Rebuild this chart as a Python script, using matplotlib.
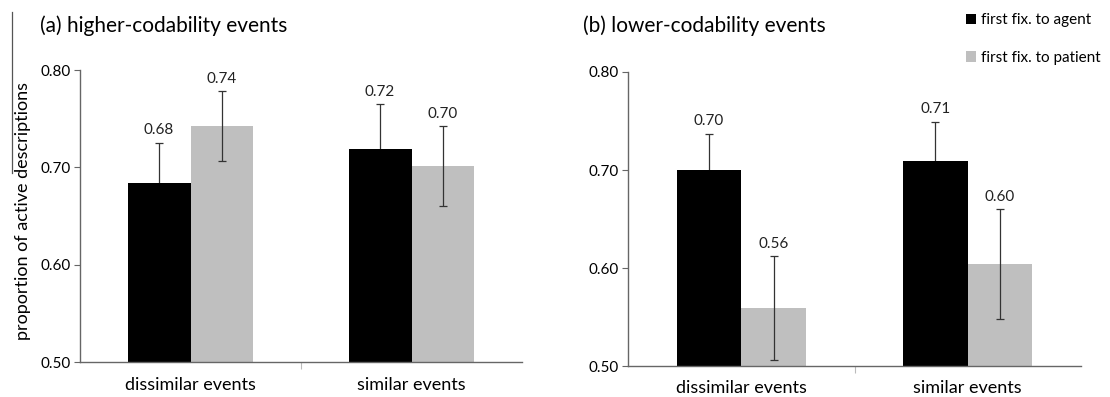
import matplotlib
matplotlib.use("Agg")
import matplotlib.pyplot as plt
from matplotlib.lines import Line2D
from matplotlib.patches import Patch

plt.rcParams['font.family'] = ['Lato', 'DejaVu Sans']

# proportions of active descriptions by first fixation
categories = ["dissimilar events", "similar events"]
series = ["first fix. to agent", "first fix. to patient"]
colors = ["#000000", "#bfbfbf"]

high_agent = [0.684, 0.719]
high_agent_err = [0.041, 0.046]
high_patient = [0.742, 0.701]
high_patient_err = [0.036, 0.041]

low_agent = [0.700, 0.709]
low_agent_err = [0.037, 0.040]
low_patient = [0.559, 0.604]
low_patient_err = [0.053, 0.056]

yticks = [0.50, 0.60, 0.70, 0.80]

W, H = 1110, 397
fig = plt.figure(figsize=(W / 100, H / 100), dpi=100)

ax_a = fig.add_axes([80 / W, 1 - 362 / H, 442 / W, 292 / H])
ax_b = fig.add_axes([628 / W, 1 - 366 / H, 453 / W, 294 / H])

bw = 0.285


def draw_panel(ax, agent, agent_err, patient, patient_err, title, title_x, xpad):
    centers = [0.5, 1.5]
    for k, (vals, errs) in enumerate([(agent, agent_err), (patient, patient_err)]):
        xs = [c - bw + k * bw for c in centers]
        ax.bar(xs, vals, width=bw, align="edge", color=colors[k], zorder=2)
        xm = [x + bw / 2 for x in xs]
        # agent bars hide the lower half of their error bars
        ax.errorbar(xm, vals, yerr=errs, fmt="none", ecolor="#333333",
                    elinewidth=0.9, capsize=3.2, capthick=0.9,
                    zorder=1 if k == 0 else 3)
        for x, v, e in zip(xm, vals, errs):
            ax.annotate(f"{v:.2f}", (x, v + e), xytext=(0, 4),
                        textcoords="offset points", ha="center", va="bottom",
                        fontsize=11, color="#222222")
    ax.set_xlim(0, 2)
    ax.set_ylim(0.5, 0.8)
    ax.set_yticks(yticks)
    ax.set_yticklabels([f"{t:.2f}" for t in yticks], fontsize=11)
    ax.set_xticks([0.5, 1.5])
    ax.set_xticklabels(categories, fontsize=13)
    ax.tick_params(axis="x", length=0, pad=xpad)
    ax.tick_params(axis="y", length=4, width=0.8, color="#666666", pad=3)
    ax.set_xticks([1.0], minor=True)
    ax.tick_params(axis="x", which="minor", length=5, width=0.8, color="#bbbbbb")
    for s in ["top", "right"]:
        ax.spines[s].set_visible(False)
    for s in ["left", "bottom"]:
        ax.spines[s].set_color("#666666")
        ax.spines[s].set_linewidth(1.0)
    fig.text(title_x / W, 1 - 26 / H, title, fontsize=15, va="center", ha="left")


draw_panel(ax_a, high_agent, high_agent_err, high_patient, high_patient_err,
           "(a) higher-codability events", 40, 11)
draw_panel(ax_b, low_agent, low_agent_err, low_patient, low_patient_err,
           "(b) lower-codability events", 583, 10)

fig.text(23 / W, 1 - 211 / H, "proportion of active descriptions", fontsize=13,
         rotation=90, ha="center", va="center")

fig.add_artist(Line2D([12 / W, 12 / W], [1 - 12 / H, 1 - 173 / H],
                      transform=fig.transFigure, color="#555555", lw=0.9))

handles = [Patch(facecolor=c, edgecolor="none") for c in colors]
fig.legend(handles, series, loc="upper left", bbox_to_anchor=(960 / W, 1 - 7 / H),
           frameon=False, fontsize=11, handlelength=0.65, handleheight=0.65,
           handletextpad=0.3, labelspacing=1.55, borderaxespad=0)

fig.savefig("out.png", dpi=100)
